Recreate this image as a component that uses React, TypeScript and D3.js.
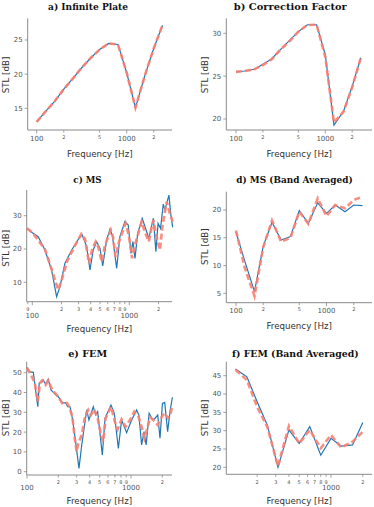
import React from "react";
import * as d3 from "d3";

// ---------- data ----------
const THIRD_OCT = [100, 125, 160, 200, 250, 315, 400, 500, 630, 800, 1000, 1250, 1600, 2000, 2500];

const aModel = [13.0, 14.5, 16.1, 17.8, 19.3, 20.9, 22.4, 23.6, 24.5, 24.35, 20.2, 15.1, 19.9, 23.8, 27.15];
const aRef = [13.0, 14.5, 16.1, 17.8, 19.3, 20.9, 22.4, 23.6, 24.5, 24.35, 20.2, 15.1, 19.9, 23.8, 27.15];

const bModel = [25.5, 25.6, 25.8, 26.4, 27.0, 28.1, 29.2, 30.2, 31.0, 31.0, 27.5, 19.3, 20.9, 23.8, 27.15];
const bRef = [25.5, 25.6, 25.8, 26.3, 26.95, 28.1, 29.1, 30.2, 30.96, 31.0, 27.25, 19.6, 20.85, 23.7, 27.15];

const cModelFreq = [88, 100, 115, 135, 158, 178, 193, 217, 255, 310, 327, 364, 393, 425, 460, 499, 532, 584, 632, 668, 741, 800, 900, 975, 1040, 1090, 1145, 1220, 1360, 1490, 1590, 1770, 1880, 1980, 2100, 2240, 2330, 2560, 2670, 2800];
const cModel = [26.2, 24.9, 23.7, 19.7, 13.7, 5.7, 8.7, 15.7, 19.7, 23.7, 24.2, 20.7, 13.7, 19.7, 22.2, 20.2, 14.9, 22.7, 25.9, 24.2, 14.2, 23.7, 28.2, 27.2, 18.7, 22.2, 17.2, 24.7, 29.2, 25.7, 23.2, 29.2, 19.2, 27.7, 26.2, 33.5, 31.7, 36.2, 30.7, 26.5];
const cRefFreq = [88, 100, 135, 160, 185, 200, 230, 270, 320, 350, 384, 415, 450, 480, 520, 560, 645, 680, 720, 780, 915, 990, 1070, 1150, 1220, 1340, 1450, 1590, 1700, 1770, 1900, 2070, 2200, 2430, 2600, 2800];
const cRef = [26.2, 25.0, 19.9, 13.5, 7.7, 10.5, 16.5, 20.5, 24.5, 23.0, 15.7, 20.0, 22.2, 20.5, 16.2, 21.0, 25.7, 23.5, 17.7, 22.0, 27.7, 24.0, 17.2, 21.5, 24.0, 28.2, 25.0, 22.2, 26.5, 28.7, 24.0, 19.7, 27.0, 34.2, 31.0, 28.2];

const dModel = [16.0, 10.8, 5.3, 13.5, 17.8, 14.6, 15.2, 19.9, 17.6, 21.3, 19.4, 20.9, 19.7, 20.9, 20.8];
const dRef = [16.3, 9.6, 4.5, 13.3, 18.1, 14.3, 15.0, 19.7, 17.5, 22.1, 18.9, 20.9, 20.3, 21.8, 22.4];

const eModelFreq = [100, 103, 115, 127, 131, 143, 151, 160, 170, 186, 200, 219, 235, 246, 259, 273, 289, 316, 336, 375, 394, 434, 458, 478, 530, 563, 642, 691, 756, 812, 908, 1000, 1132, 1191, 1265, 1335, 1398, 1495, 1605, 1675, 1807, 1900, 2006, 2110, 2250, 2370, 2500];
const eModel = [52.7, 50.5, 50.2, 32.8, 44.6, 46.3, 44.3, 46.7, 41.3, 39.2, 37.9, 34.8, 34.8, 32.8, 32.8, 27.0, 17.7, 1.7, 13.5, 31.2, 26.1, 32.8, 28.6, 30.3, 8.4, 27.0, 33.7, 29.5, 11.8, 26.1, 19.7, 25.3, 31.2, 28.6, 13.5, 20.2, 13.5, 29.5, 26.5, 26.5, 28.6, 16.9, 34.5, 35.0, 20.2, 30.3, 37.6];
const eRefFreq = [100, 107, 119, 127, 133, 140, 151, 160, 175, 197, 219, 241, 253, 273, 289, 300, 311, 336, 361, 388, 412, 443, 478, 515, 541, 570, 642, 700, 744, 812, 888, 1000, 1074, 1180, 1265, 1346, 1450, 1525, 1640, 1807, 1980, 2110, 2270, 2390, 2500];
const eRef = [52.5, 50.0, 44.6, 35.4, 44.6, 46.0, 43.8, 46.0, 41.3, 38.2, 34.5, 34.8, 33.2, 27.8, 16.0, 10.1, 14.3, 18.5, 27.8, 31.2, 28.6, 31.5, 27.0, 18.5, 15.2, 27.0, 32.8, 25.3, 21.4, 26.5, 22.7, 27.0, 30.3, 27.8, 22.7, 16.9, 22.7, 27.5, 26.1, 23.6, 27.8, 29.5, 27.0, 28.6, 33.7];

const fFreq = [125, 160, 200, 250, 315, 400, 500, 630, 800, 1000, 1250, 1600, 2000];
const fModel = [46.8, 44.7, 37.9, 31.5, 20.0, 30.2, 26.5, 31.1, 23.3, 27.9, 25.8, 26.1, 32.2];
const fRef = [46.6, 43.8, 36.5, 31.0, 20.3, 31.3, 26.5, 30.2, 25.2, 28.8, 25.4, 27.0, 29.7];

const TITLES = ["a) Infinite Plate", "b) Correction Factor", "c) MS", "d) MS (Band Averaged)", "e) FEM", "f) FEM (Band Averaged)"];
const Y_LABEL = "STL [dB]";
const X_LABEL = "Frequency [Hz]";

const ticksSparse = [
  { f: 100, label: "100", major: true },
  { f: 200, label: "2", major: false },
  { f: 500, label: "5", major: false },
  { f: 1000, label: "1000", major: true },
  { f: 2000, label: "2", major: false },
];
const minorDense = (list: number[]) => list.map((f) => ({ f, label: String(f >= 1000 ? f / 1000 : f >= 100 ? f / 100 : f / 10), major: false }));
const ticksC = [
  ...minorDense([90, 200, 300, 400, 500, 600, 700, 800, 900, 2000]),
  { f: 100, label: "100", major: true },
  { f: 1000, label: "1000", major: true },
];
const ticksE = [
  ...minorDense([200, 300, 400, 500, 600, 700, 800, 900, 2000]),
  { f: 100, label: "100", major: true },
  { f: 1000, label: "1000", major: true },
];
const ticksF = [
  ...minorDense([200, 300, 400, 500, 600, 700, 800, 900, 2000]),
  { f: 1000, label: "1000", major: true },
];

// ---------- layout ----------
type Tick = { f: number; label: string; major: boolean };
type PanelCfg = {
  title: string; titleX: number; titleY: number; titleW: number;
  L: number; R: number; T: number; B: number;
  xCal: [number, number]; // pixel of 100 Hz, 1000 Hz
  yCal: [number, number, number, number]; // v1, px1, v2, px2
  yTicks: number[];
  xTicks: Tick[];
  dense: boolean; majorOff: number;
  yLabelX: number; yLabelY: number; xLabelY: number;
  model: [number, number][]; ref: [number, number][];
};

const zip = (f: number[], v: number[]) => f.map((d, i) => [d, v[i]] as [number, number]);

const panels: PanelCfg[] = [
  { title: TITLES[0], titleX: 88, titleY: 9.5, titleW: 80, L: 27.7, R: 172, T: 18.3, B: 130, xCal: [36.7, 126.7], yCal: [15, 108.3, 25, 40], yTicks: [15, 20, 25], xTicks: ticksSparse, dense: false, majorOff: 10.7, yLabelX: 9, yLabelY: 75, xLabelY: 157, model: zip(THIRD_OCT, aModel), ref: zip(THIRD_OCT, aRef) },
  { title: TITLES[1], titleX: 290.3, titleY: 9.5, titleW: 113, L: 226.3, R: 372, T: 18.3, B: 130, xCal: [236, 325.3], yCal: [20, 119, 30, 33.3], yTicks: [20, 25, 30], xTicks: ticksSparse, dense: false, majorOff: 10.7, yLabelX: 207.8, yLabelY: 75, xLabelY: 157, model: zip(THIRD_OCT, bModel), ref: zip(THIRD_OCT, bRef) },
  { title: TITLES[2], titleX: 87.5, titleY: 182.7, titleW: 28.3, L: 26.7, R: 172, T: 190, B: 301.7, xCal: [32.3, 129.3], yCal: [10, 282.3, 30, 215.7], yTicks: [10, 20, 30], xTicks: ticksC, dense: true, majorOff: 16.5, yLabelX: 9, yLabelY: 248.3, xLabelY: 332.3, model: zip(cModelFreq, cModel), ref: zip(cRefFreq, cRef) },
  { title: TITLES[3], titleX: 294.5, titleY: 182.5, titleW: 116.3, L: 226.3, R: 372, T: 191.7, B: 302.7, xCal: [236, 326.5], yCal: [5, 293.3, 20, 210], yTicks: [5, 10, 15, 20], xTicks: ticksSparse, dense: false, majorOff: 10.7, yLabelX: 207.8, yLabelY: 246.7, xLabelY: 329.3, model: zip(THIRD_OCT, dModel), ref: zip(THIRD_OCT, dRef) },
  { title: TITLES[4], titleX: 87.7, titleY: 356.7, titleW: 39, L: 26.7, R: 172, T: 361.7, B: 475, xCal: [27, 131], yCal: [0, 471.7, 50, 372.7], yTicks: [0, 10, 20, 30, 40, 50], xTicks: ticksE, dense: true, majorOff: 15, yLabelX: 9, yLabelY: 418, xLabelY: 504, model: zip(eModelFreq, eModel), ref: zip(eRefFreq, eRef) },
  { title: TITLES[5], titleX: 295.3, titleY: 356.7, titleW: 126.7, L: 226.3, R: 372, T: 361.7, B: 474.3, xCal: [225.3, 331], yCal: [20, 467.3, 45, 375.7], yTicks: [20, 25, 30, 35, 40, 45], xTicks: ticksF, dense: true, majorOff: 15.2, yLabelX: 207.8, yLabelY: 418, xLabelY: 504, model: zip(fFreq, fModel), ref: zip(fFreq, fRef) },
];

const BLUE = "#1f77b4";
const RED = "#fa8072";
const AXIS = "#8a8a8a";
const TICK_TXT = "#555";
const LABEL_TXT = "#333";
const SANS = "'DejaVu Sans', sans-serif";
const SERIF = "'DejaVu Serif', serif";

function Panel({ p }: { p: PanelCfg }) {
  const x = d3.scaleLog().domain([100, 1000]).range(p.xCal);
  const y = d3.scaleLinear().domain([p.yCal[0], p.yCal[2]]).range([p.yCal[1], p.yCal[3]]);
  const line = d3.line<[number, number]>().x((d) => x(d[0])).y((d) => y(d[1]));
  return (
    <g>
      <text x={p.titleX} y={p.titleY} textAnchor="middle" fontFamily={SERIF} fontWeight="bold" fontSize={9} fill="#111" textLength={p.titleW} lengthAdjust="spacingAndGlyphs">{p.title}</text>
      {/* spines */}
      <line x1={p.L} x2={p.L} y1={p.T} y2={p.B} stroke={AXIS} strokeWidth={1} />
      <line x1={p.L} x2={p.R} y1={p.B} y2={p.B} stroke={AXIS} strokeWidth={1} />
      {/* y ticks */}
      {p.yTicks.map((t) => (
        <g key={"y" + t}>
          <line x1={p.L - 3} x2={p.L} y1={y(t)} y2={y(t)} stroke={AXIS} strokeWidth={0.8} />
          <text x={p.L - 5} y={y(t)} dy="0.35em" textAnchor="end" fontFamily={SANS} fontSize={7} fill={TICK_TXT}>{t}</text>
        </g>
      ))}
      {/* x ticks */}
      {p.xTicks.map((t, i) => {
        const px = x(t.f);
        const len = t.major ? 3.5 : 2.5;
        const by = t.major ? p.majorOff : (p.dense ? 9.3 : 8.5);
        return (
          <g key={"x" + i}>
            <line x1={px} x2={px} y1={p.B} y2={p.B + len} stroke={AXIS} strokeWidth={0.8} />
            <text x={px} y={p.B + by} textAnchor="middle" fontFamily={SANS} fontSize={t.major ? 7 : 5} fill={TICK_TXT}>{t.label}</text>
          </g>
        );
      })}
      <text transform={`translate(${p.yLabelX},${p.yLabelY}) rotate(-90)`} textAnchor="middle" fontFamily={SANS} fontSize={8.7} fill={LABEL_TXT}>{Y_LABEL}</text>
      <text x={(p.L + p.R) / 2} y={p.xLabelY} textAnchor="middle" fontFamily={SANS} fontSize={8.7} fill={LABEL_TXT}>{X_LABEL}</text>
      <path d={line(p.model) || ""} fill="none" stroke={BLUE} strokeWidth={1.2} />
      <path d={line(p.ref) || ""} fill="none" stroke={RED} strokeWidth={2.6} strokeDasharray="6,3" opacity={0.9} />
    </g>
  );
}

export default function App() {
  return (
    <svg width={374} height={507} style={{ position: "fixed", left: 0, top: 0, background: "#fff" }}>
      <rect width={374} height={507} fill="#fff" />
      {panels.map((p, i) => <Panel key={i} p={p} />)}
    </svg>
  );
}
